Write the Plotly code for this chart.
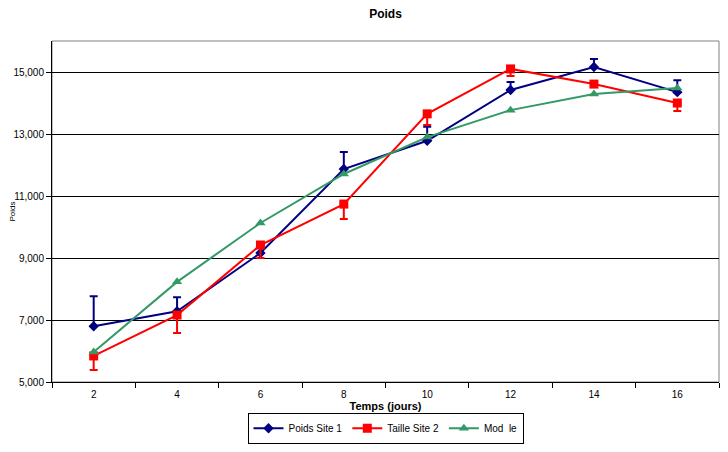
import plotly.graph_objects as go

days = [2, 4, 6, 8, 10, 12, 14, 16]
poids_site1 = [6800, 7280, 9160, 11870, 12780, 14420, 15160, 14350]
poids_site1_err = [970, 450, 0, 550, 450, 260, 260, 380]
taille_site2 = [5840, 7160, 9420, 10740, 13650, 15100, 14610, 14000]
taille_site2_err = [450, 580, 420, 480, 360, 230, 0, 260]
modele = [5970, 8230, 10130, 11710, 12900, 13770, 14290, 14480]
x_ticks = [2, 4, 6, 8, 10, 12, 14, 16]
x_ticklabels = ["2", "4", "6", "8", "10", "12", "14", "16"]

fig = go.Figure()
fig.add_trace(go.Scatter(
    x=days, y=poids_site1, name="Poids Site 1", mode="lines+markers",
    line=dict(color="#000080", width=2),
    marker=dict(symbol="diamond", size=8, color="#000080"),
    error_y=dict(type="data", array=poids_site1_err, arrayminus=[0]*8,
                 symmetric=False, color="#000080", thickness=2, width=4),
))
fig.add_trace(go.Scatter(
    x=days, y=taille_site2, name="Taille Site 2", mode="lines+markers",
    line=dict(color="#FF0000", width=2),
    marker=dict(symbol="square", size=9, color="#FF0000"),
    error_y=dict(type="data", array=[0]*8, arrayminus=taille_site2_err,
                 symmetric=False, color="#FF0000", thickness=2, width=4),
))
fig.add_trace(go.Scatter(
    x=days, y=modele, name="Mod\u00a0\u00a0le", mode="lines+markers",
    line=dict(color="#339966", width=2),
    marker=dict(symbol="triangle-up", size=9, color="#339966"),
))

fig.add_shape(type="rect", xref="paper", yref="paper", x0=0, x1=1, y0=0, y1=1,
              line=dict(color="#808080", width=1), layer="below")

fig.update_layout(
    width=712, height=436,
    margin=dict(l=44, r=1, t=33, b=61),
    paper_bgcolor="white", plot_bgcolor="white",
    font=dict(family="Liberation Sans, Arial, sans-serif", size=10, color="black"),
    title=dict(text="<b>Poids</b>", x=0.5, xanchor="center", xref="paper",
               y=0.997, yref="container", yanchor="top", pad=dict(t=0),
               font=dict(size=12)),
    showlegend=True,
    legend=dict(orientation="h", x=0.5, xanchor="center", y=-0.1775, yanchor="bottom",
                bordercolor="black", borderwidth=1, bgcolor="white",
                font=dict(size=10), itemwidth=30, tracegroupgap=0),
    xaxis=dict(
        range=[1, 17], tickmode="array", tickvals=x_ticks, ticktext=x_ticklabels,
        ticks="", showgrid=False, zeroline=False, automargin=False,
        showline=True, linecolor="black", linewidth=1,
        minor=dict(ticks="outside", tick0=1, dtick=2, ticklen=5, tickcolor="black",
                   showgrid=False),
        ticklabelstandoff=3,
        title=dict(text="<b>Temps (jours)</b>", font=dict(size=11), standoff=3),
        tickfont=dict(size=10),
    ),
    yaxis=dict(
        range=[5000, 16000], tick0=5000, dtick=2000, tickformat=",",
        ticks="outside", ticklen=5, tickcolor="black", automargin=False,
        showgrid=True, gridcolor="black", gridwidth=1, zeroline=False,
        showline=True, linecolor="black", linewidth=1,
        title=dict(text="Poids", font=dict(size=8), standoff=4),
        tickfont=dict(size=10),
    ),
)

fig.write_html("out.html")
